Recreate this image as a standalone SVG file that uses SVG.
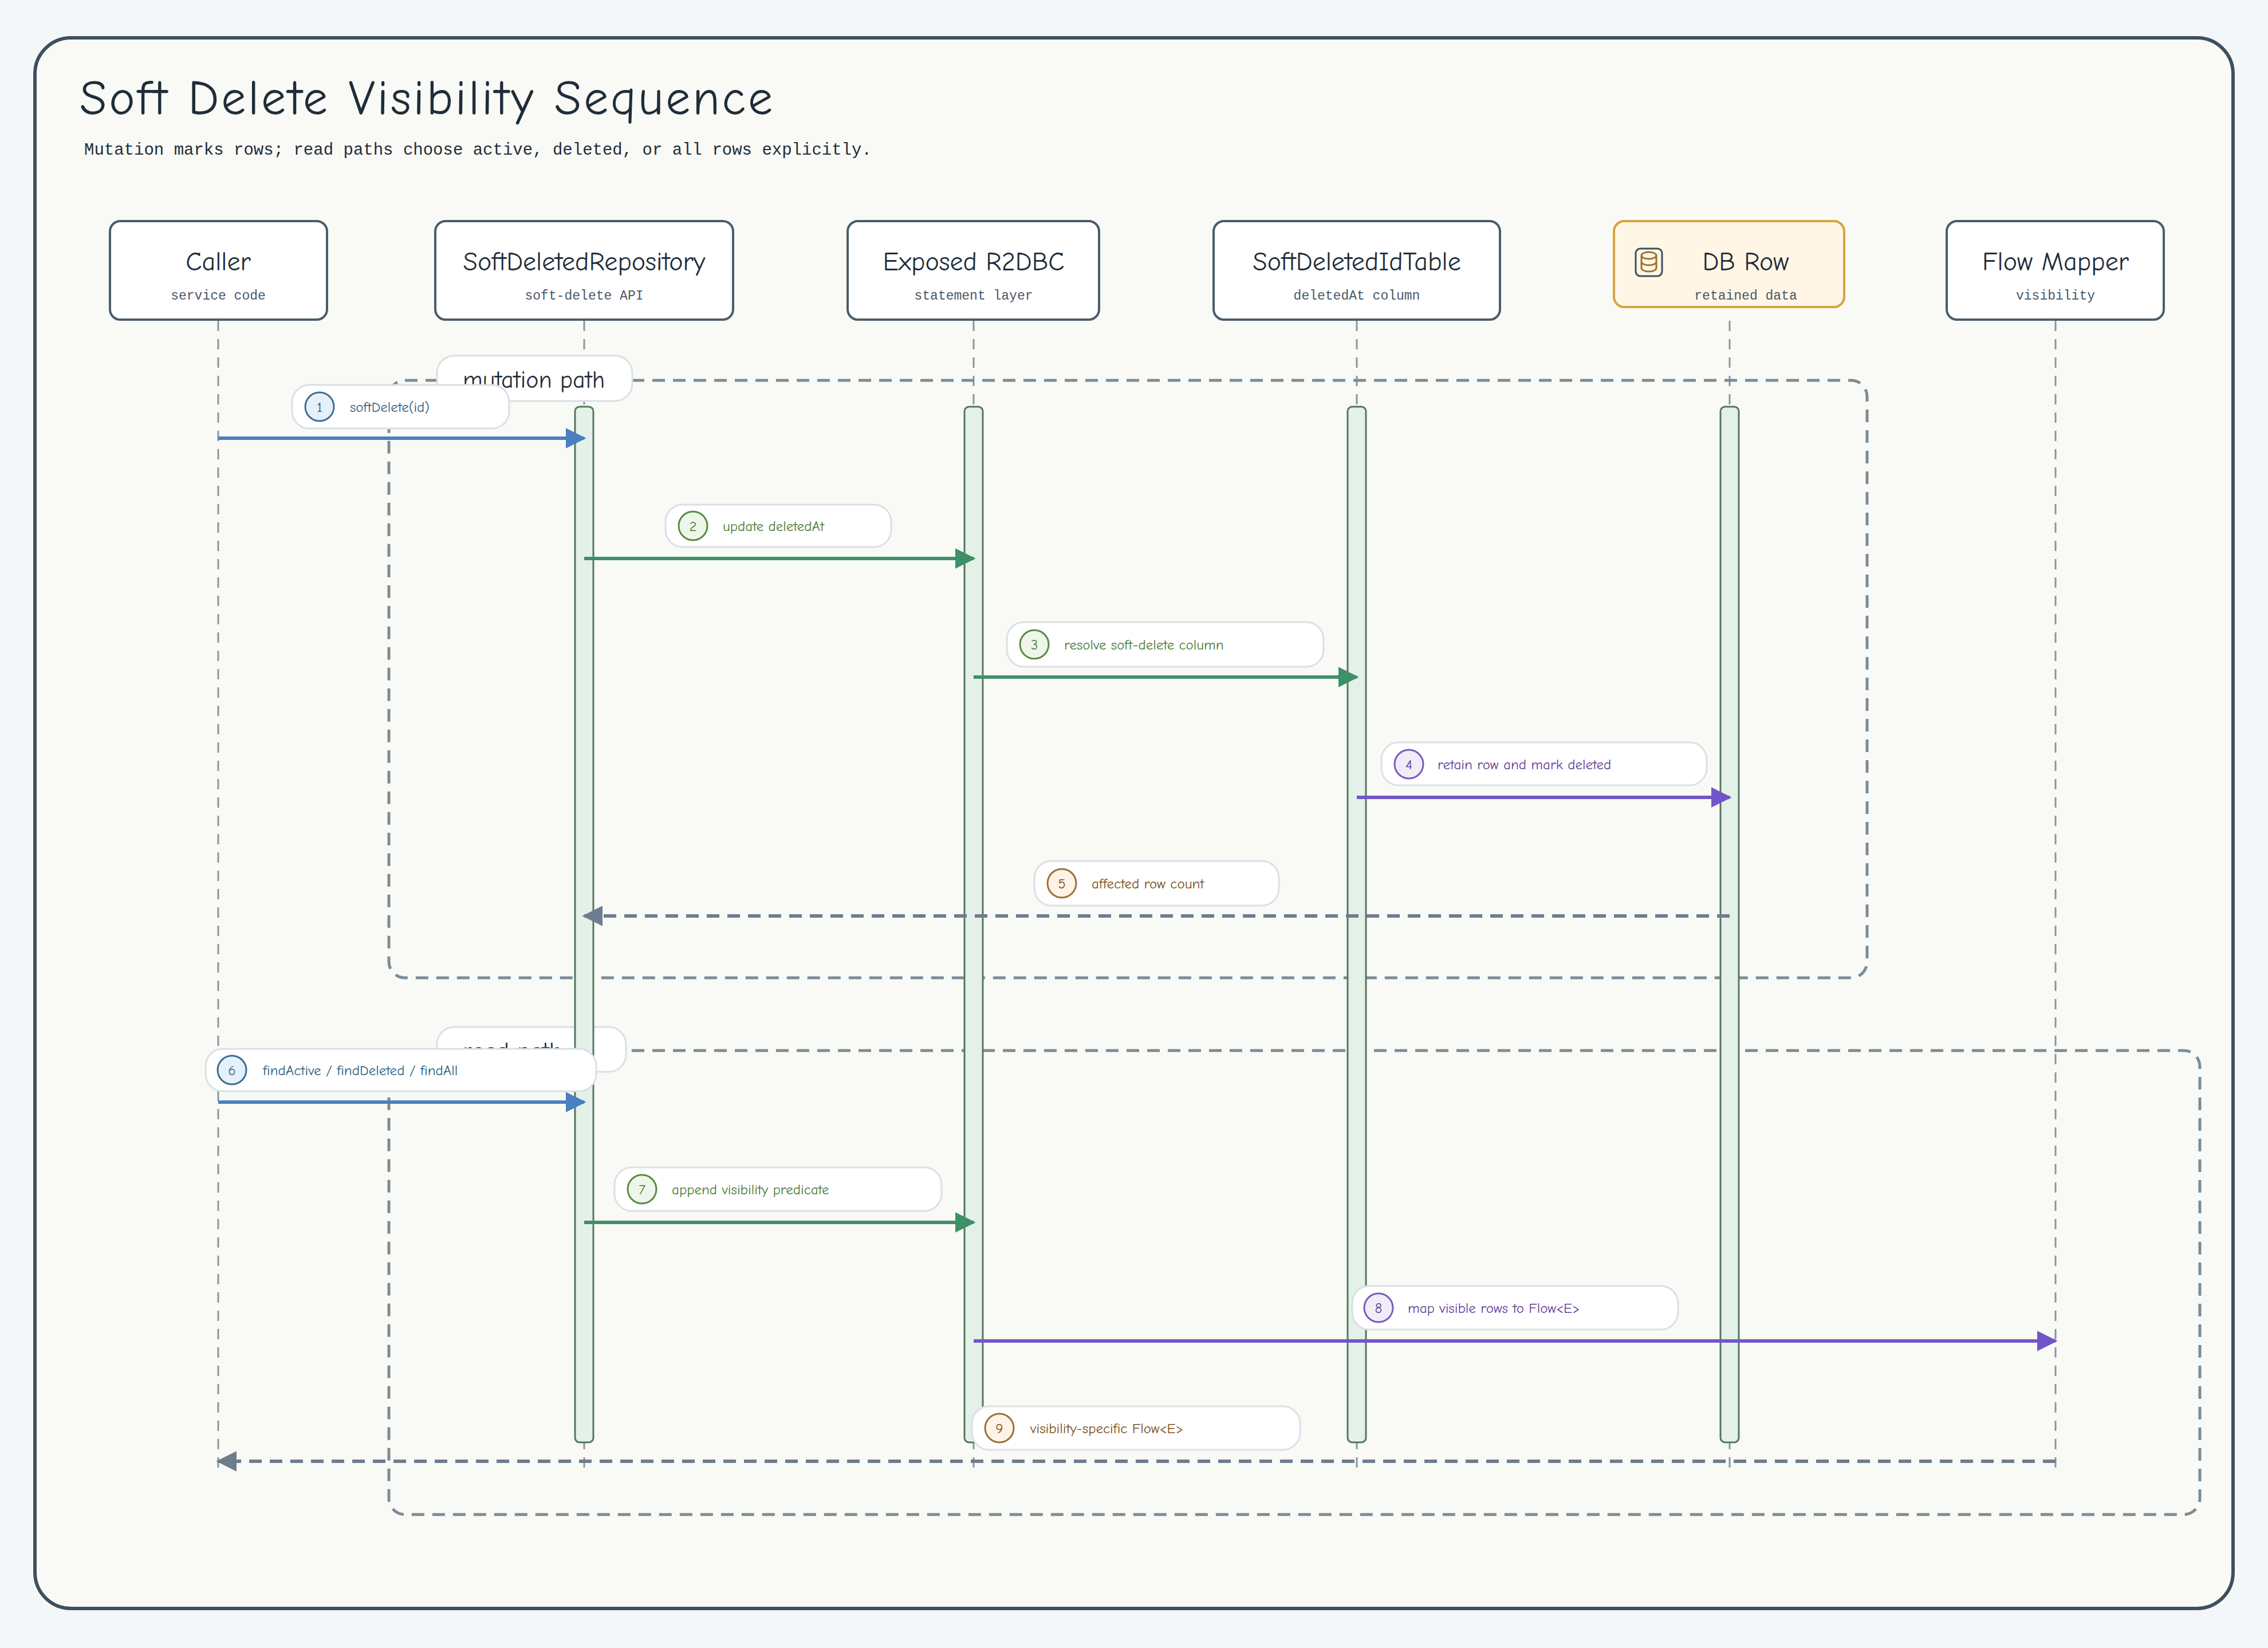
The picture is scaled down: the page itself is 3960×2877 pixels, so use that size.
<svg xmlns="http://www.w3.org/2000/svg" width="3960" height="2877" viewBox="0 0 3960 2877">
<defs>
<style>
.hand{font-family:"Comic Neue","Lato","Liberation Sans",sans-serif}
.mono{font-family:"Liberation Mono","DejaVu Sans Mono",monospace}
.node{fill:#ffffff;stroke:#4a5d6b;stroke-width:4}
.ntitle{font-size:46px;fill:#1f2d3a;text-anchor:middle}
.nsub{font-size:23px;fill:#4a5866;text-anchor:middle}
.life{stroke:#8796a3;stroke-width:3;stroke-dasharray:18 14;fill:none}
.bar{fill:#e4f1e8;stroke:#55775f;stroke-width:3}
.frame{fill:none;stroke:#7a8c99;stroke-width:5;stroke-dasharray:22 14}
.pill{fill:#ffffff;stroke:#d9e0e6;stroke-width:3}
.flabel{font-size:42px;fill:#1f2d3a}
.mlabel{font-size:25px}
.msg{stroke-width:6;fill:none}
</style>
<marker id="ab" viewBox="0 0 10 10" refX="9" refY="5" markerWidth="6" markerHeight="6" orient="auto" markerUnits="strokeWidth"><path d="M0,0L10,5L0,10z" fill="#4a7fc1"/></marker>
<marker id="ag" viewBox="0 0 10 10" refX="9" refY="5" markerWidth="6" markerHeight="6" orient="auto" markerUnits="strokeWidth"><path d="M0,0L10,5L0,10z" fill="#3d9068"/></marker>
<marker id="ap" viewBox="0 0 10 10" refX="9" refY="5" markerWidth="6" markerHeight="6" orient="auto" markerUnits="strokeWidth"><path d="M0,0L10,5L0,10z" fill="#7155c8"/></marker>
<marker id="ar" viewBox="0 0 10 10" refX="9" refY="5" markerWidth="6" markerHeight="6" orient="auto" markerUnits="strokeWidth"><path d="M0,0L10,5L0,10z" fill="#6e7d8e"/></marker>
</defs>
<rect width="3960" height="2877" fill="#f4f7f9"/>
<rect x="61" y="66" width="3838" height="2742" rx="63" fill="#f9faf5" stroke="#3e505d" stroke-width="6"/>
<text x="139" y="200" class="hand" font-size="86" fill="#1f2d3a" textLength="1210" lengthAdjust="spacing">Soft Delete Visibility Sequence</text>
<text x="147" y="270" class="mono" font-size="29" fill="#1f2d3a">Mutation marks rows; read paths choose active, deleted, or all rows explicitly.</text>

<g id="lifelines">
<line class="life" x1="381" y1="560" x2="381" y2="2575"/>
<line class="life" x1="1020" y1="560" x2="1020" y2="2575"/>
<line class="life" x1="1700" y1="560" x2="1700" y2="2575"/>
<line class="life" x1="2369" y1="560" x2="2369" y2="2575"/>
<line class="life" x1="3020" y1="560" x2="3020" y2="2575"/>
<line class="life" x1="3589" y1="560" x2="3589" y2="2575"/>
</g>

<g id="frames">
<rect class="frame" x="679" y="664" width="2581" height="1043" rx="28"/>
<rect class="frame" x="679" y="1834" width="3162" height="810" rx="28"/>
<g id="frame-mutation"><rect class="pill" x="763" y="621" width="341" height="79" rx="30"/><text x="808" y="677" class="hand flabel">mutation path</text></g>
<g id="frame-read"><rect class="pill" x="763" y="1793" width="330" height="78" rx="30"/><text x="808" y="1849" class="hand flabel">read path</text></g>
</g>

<g id="activations">
<rect class="bar" x="1004" y="710" width="32" height="1808" rx="8"/>
<rect class="bar" x="1684" y="710" width="32" height="1808" rx="8"/>
<rect class="bar" x="2353" y="710" width="32" height="1808" rx="8"/>
<rect class="bar" x="3004" y="710" width="32" height="1808" rx="8"/>
</g>

<g id="node-caller"><rect class="node" x="192" y="386" width="379" height="172" rx="18"/><text x="381" y="472" class="hand ntitle">Caller</text><text x="381" y="523" class="mono nsub">service code</text></g>
<g id="node-repo"><rect class="node" x="760" y="386" width="520" height="172" rx="18"/><text x="1020" y="472" class="hand ntitle">SoftDeletedRepository</text><text x="1020" y="523" class="mono nsub">soft-delete API</text></g>
<g id="node-r2dbc"><rect class="node" x="1480" y="386" width="439" height="172" rx="18"/><text x="1700" y="472" class="hand ntitle">Exposed R2DBC</text><text x="1700" y="523" class="mono nsub">statement layer</text></g>
<g id="node-table"><rect class="node" x="2119" y="386" width="500" height="172" rx="18"/><text x="2369" y="472" class="hand ntitle">SoftDeletedIdTable</text><text x="2369" y="523" class="mono nsub">deletedAt column</text></g>
<g id="node-dbrow"><rect x="2818" y="386" width="402" height="150" rx="18" fill="#fff6e6" stroke="#d9a23e" stroke-width="4"/>
<rect x="2856" y="434" width="46" height="48" rx="8" fill="#fff6e6" stroke="#3e505d" stroke-width="3"/>
<ellipse cx="2879" cy="446" rx="13" ry="6" fill="none" stroke="#a07030" stroke-width="3"/>
<path d="M2866,446v22a13,6 0 0 0 26,0v-22M2866,457a13,6 0 0 0 26,0" fill="none" stroke="#a07030" stroke-width="3"/>
<text x="3048" y="472" class="hand ntitle">DB Row</text><text x="3048" y="523" class="mono nsub">retained data</text></g>
<g id="node-flow"><rect class="node" x="3399" y="386" width="379" height="172" rx="18"/><text x="3589" y="472" class="hand ntitle">Flow Mapper</text><text x="3589" y="523" class="mono nsub">visibility</text></g>

<g id="connectors">
<line class="msg" stroke="#4a7fc1" marker-end="url(#ab)" x1="381" y1="765" x2="1020" y2="765"/>
<line class="msg" stroke="#3d9068" marker-end="url(#ag)" x1="1020" y1="975" x2="1700" y2="975"/>
<line class="msg" stroke="#3d9068" marker-end="url(#ag)" x1="1700" y1="1182" x2="2369" y2="1182"/>
<line class="msg" stroke="#7155c8" marker-end="url(#ap)" x1="2369" y1="1392" x2="3020" y2="1392"/>
<line class="msg" stroke="#6e7d8e" stroke-dasharray="22 14" marker-end="url(#ar)" x1="3020" y1="1599" x2="1020" y2="1599"/>
<line class="msg" stroke="#4a7fc1" marker-end="url(#ab)" x1="381" y1="1924" x2="1020" y2="1924"/>
<line class="msg" stroke="#3d9068" marker-end="url(#ag)" x1="1020" y1="2134" x2="1700" y2="2134"/>
<line class="msg" stroke="#7155c8" marker-end="url(#ap)" x1="1700" y1="2341" x2="3589" y2="2341"/>
<line class="msg" stroke="#6e7d8e" stroke-dasharray="22 14" marker-end="url(#ar)" x1="3589" y1="2551" x2="381" y2="2551"/>
</g>

<g id="labels" class="hand">
<g><rect class="pill" x="510" y="672" width="379" height="76" rx="30"/><circle cx="558" cy="710" r="25" fill="#e6f0f8" stroke="#3d6f94" stroke-width="3"/><text x="558" y="719" class="mlabel" text-anchor="middle" fill="#2d5f80">1</text><text x="611" y="719" class="mlabel" fill="#2d5f80">softDelete(id)</text></g>
<g><rect class="pill" x="1162" y="881" width="394" height="74" rx="30"/><circle cx="1210" cy="918" r="25" fill="#eef6ea" stroke="#5b8a45" stroke-width="3"/><text x="1210" y="927" class="mlabel" text-anchor="middle" fill="#4d7a35">2</text><text x="1262" y="927" class="mlabel" fill="#4d7a35">update deletedAt</text></g>
<g><rect class="pill" x="1758" y="1086" width="553" height="78" rx="30"/><circle cx="1806" cy="1125" r="25" fill="#eef6ea" stroke="#5b8a45" stroke-width="3"/><text x="1806" y="1134" class="mlabel" text-anchor="middle" fill="#4d7a35">3</text><text x="1858" y="1134" class="mlabel" fill="#4d7a35">resolve soft-delete column</text></g>
<g><rect class="pill" x="2412" y="1296" width="568" height="75" rx="30"/><circle cx="2460" cy="1334" r="25" fill="#f1ecfa" stroke="#7a5cb8" stroke-width="3"/><text x="2460" y="1343" class="mlabel" text-anchor="middle" fill="#5e3f98">4</text><text x="2510" y="1343" class="mlabel" fill="#5e3f98">retain row and mark deleted</text></g>
<g><rect class="pill" x="1806" y="1503" width="427" height="78" rx="30"/><circle cx="1854" cy="1542" r="25" fill="#fdf3e6" stroke="#a0703a" stroke-width="3"/><text x="1854" y="1551" class="mlabel" text-anchor="middle" fill="#7a5020">5</text><text x="1906" y="1551" class="mlabel" fill="#7a5020">affected row count</text></g>
<g><rect class="pill" x="359" y="1831" width="682" height="74" rx="30"/><circle cx="405" cy="1868" r="25" fill="#e6f0f8" stroke="#3d6f94" stroke-width="3"/><text x="405" y="1877" class="mlabel" text-anchor="middle" fill="#2d5f80">6</text><text x="459" y="1877" class="mlabel" fill="#2d5f80">findActive / findDeleted / findAll</text></g>
<g><rect class="pill" x="1073" y="2038" width="571" height="76" rx="30"/><circle cx="1121" cy="2076" r="25" fill="#eef6ea" stroke="#5b8a45" stroke-width="3"/><text x="1121" y="2085" class="mlabel" text-anchor="middle" fill="#4d7a35">7</text><text x="1173" y="2085" class="mlabel" fill="#4d7a35">append visibility predicate</text></g>
<g><rect class="pill" x="2361" y="2245" width="569" height="76" rx="30"/><circle cx="2407" cy="2283" r="25" fill="#f1ecfa" stroke="#7a5cb8" stroke-width="3"/><text x="2407" y="2292" class="mlabel" text-anchor="middle" fill="#5e3f98">8</text><text x="2458" y="2292" class="mlabel" fill="#5e3f98">map visible rows to Flow&lt;E&gt;</text></g>
<g><rect class="pill" x="1697" y="2455" width="573" height="76" rx="30"/><circle cx="1745" cy="2493" r="25" fill="#fdf3e6" stroke="#a0703a" stroke-width="3"/><text x="1745" y="2502" class="mlabel" text-anchor="middle" fill="#7a5020">9</text><text x="1799" y="2502" class="mlabel" fill="#7a5020">visibility-specific Flow&lt;E&gt;</text></g>
</g>
</svg>
